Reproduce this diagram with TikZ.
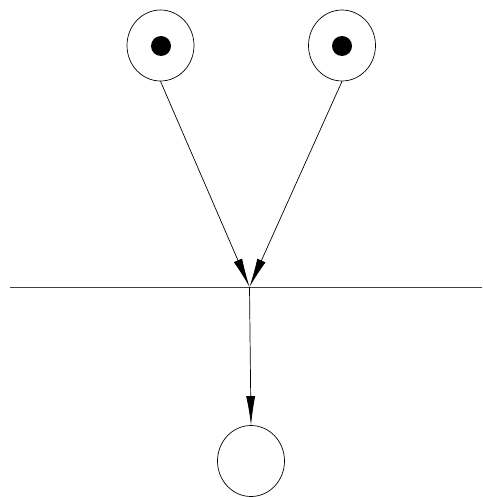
\documentclass[tikz,border=0pt]{standalone}
\usetikzlibrary{arrows.meta,shapes.geometric}
\begin{document}
\begin{tikzpicture}[x=1pt,y=-1pt,
  ring/.style={draw,ellipse,inner sep=0pt,minimum width=67pt,minimum height=71pt,line width=0.7pt},
  dotnode/.style={circle,fill=black,inner sep=0pt,minimum width=19pt,minimum height=20pt},
  arr/.style={line width=0.7pt,-{Latex[length=29pt,width=9pt]}},
  plain/.style={line width=0.9pt,draw=black!75}]
\useasboundingbox (0,0) rectangle (482,497);
\node[ring] (a) at (160.5,45.5) {};
\node[ring] (b) at (342,45.5) {};
\node[dotnode] (da) at (161,46) {};
\node[dotnode] (db) at (342,46) {};
\node[ring] (c) at (251,461) {};
\coordinate (m) at (249.5,287);
\coordinate (l) at (10,287);
\coordinate (r) at (482,287);
\draw[plain] (l) -- (r);
\draw[arr] (a.south) -- (m);
\draw[arr] (b.south) -- (m);
\draw[arr] (m) -- (c.north);
\end{tikzpicture}
\end{document}
